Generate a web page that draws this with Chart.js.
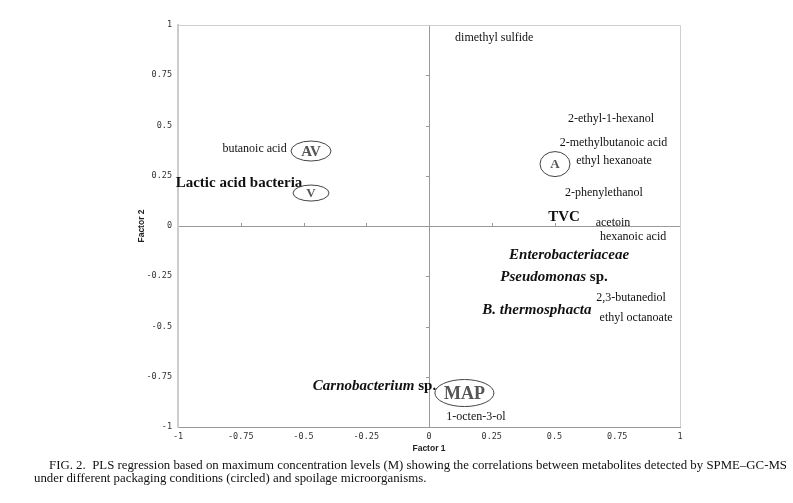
<!DOCTYPE html>
<html>
<head>
<meta charset="utf-8">
<script src="https://cdn.jsdelivr.net/npm/chart.js@4.4.1/dist/chart.umd.min.js"></script>
<style>
  body { margin: 0; background: #fff; }
  #wrap { position: relative; width: 793px; height: 503px; }
  .cap { position: absolute; font-family: "Liberation Serif", serif; font-size: 12px; color: #111;
         white-space: nowrap; transform-origin: 0 0; line-height: 12px; }
</style>
</head>
<body>
<div id="wrap">
  <canvas id="myChart" width="793" height="503"></canvas>
  <div class="cap" id="cap1" style="left:49px; top:459px;">FIG. 2.&nbsp; PLS regression based on maximum concentration levels (M) showing the correlations between metabolites detected by SPME–GC-MS</div>
  <div class="cap" id="cap2" style="left:34px; top:472px;">under different packaging conditions (circled) and spoilage microorganisms.</div>
</div>
<script>
// loadings (Factor 1, Factor 2)
const compoundNames = ['dimethyl sulfide', '2-ethyl-1-hexanol', '2-methylbutanoic acid', 'ethyl hexanoate',
  '2-phenylethanol', 'acetoin', 'hexanoic acid', '2,3-butanediol', 'ethyl octanoate', '1-octen-3-ol', 'butanoic acid'];
const compoundX = [0.26, 0.725, 0.735, 0.737, 0.697, 0.733, 0.813, 0.805, 0.825, 0.187, -0.695];
const compoundY = [0.935, 0.532, 0.413, 0.323, 0.164, 0.015, -0.055, -0.358, -0.458, -0.95, 0.383];

const microbeNames = ['Lactic acid bacteria', 'TVC', 'Enterobacteriaceae', 'Pseudomonas sp.', 'B. thermosphacta', 'Carnobacterium sp.'];
const microbeX = [-0.757, 0.538, 0.558, 0.498, 0.43, -0.217];
const microbeY = [0.214, 0.045, -0.144, -0.254, -0.418, -0.796];

const packagingNames = ['AV', 'V', 'A', 'MAP'];
const packagingX = [-0.47, -0.47, 0.502, 0.141];
const packagingY = [0.373, 0.164, 0.308, -0.831];

const axisTicks = [-1, -0.75, -0.5, -0.25, 0, 0.25, 0.5, 0.75, 1];

function toPoints(xs, ys) {
  return xs.map(function(x, i) { return {x: x, y: ys[i]}; });
}

// which microbe names are set in italic (genus part only when it ends in " sp.")
const italicNames = ['Enterobacteriaceae', 'Pseudomonas sp.', 'B. thermosphacta', 'Carnobacterium sp.'];
// ellipse half sizes and font size for the packaging labels
const ringSize = { 'AV': [20, 10, 15], 'V': [18, 8, 13], 'A': [15, 12.5, 13], 'MAP': [29.5, 13.5, 18] };

const labelPlugin = {
  id: 'labels',
  beforeDatasetsDraw(chart) {
    const ctx = chart.ctx, a = chart.chartArea;
    const xs = chart.scales.x, ys = chart.scales.y;
    const x0 = xs.getPixelForValue(0), y0 = ys.getPixelForValue(0);
    ctx.save();
    // top + right frame
    ctx.strokeStyle = '#cfcfcf';
    ctx.lineWidth = 1;
    ctx.beginPath();
    ctx.moveTo(a.left, a.top + 0.5); ctx.lineTo(a.right + 0.5, a.top + 0.5);
    ctx.lineTo(a.right + 0.5, a.bottom);
    ctx.stroke();
    // small tick marks on the zero axes
    ctx.strokeStyle = '#999';
    ctx.beginPath();
    axisTicks.forEach(function(v) {
      if (v === 0 || Math.abs(v) === 1) return;
      const px = Math.round(xs.getPixelForValue(v)) + 0.5;
      ctx.moveTo(px, y0); ctx.lineTo(px, y0 - 3);
      const py = Math.round(ys.getPixelForValue(v)) + 0.5;
      ctx.moveTo(x0, py); ctx.lineTo(x0 - 3, py);
    });
    ctx.stroke();
    ctx.restore();
  },
  afterDatasetsDraw(chart) {
    const ctx = chart.ctx;
    const xs = chart.scales.x, ys = chart.scales.y;
    ctx.save();
    ctx.textBaseline = 'middle';
    ctx.textAlign = 'center';

    // compounds
    ctx.fillStyle = '#111';
    ctx.font = '12px "Liberation Serif"';
    compoundNames.forEach(function(n, i) {
      ctx.fillText(n, xs.getPixelForValue(compoundX[i]), ys.getPixelForValue(compoundY[i]));
    });

    // microorganisms
    microbeNames.forEach(function(n, i) {
      const cx = xs.getPixelForValue(microbeX[i]), cy = ys.getPixelForValue(microbeY[i]);
      const italic = italicNames.indexOf(n) >= 0;
      let parts;
      if (italic && n.endsWith(' sp.')) parts = [[n.slice(0, -4), true], [' sp.', false]];
      else parts = [[n, italic]];
      const fonts = parts.map(function(p) { return (p[1] ? 'italic ' : '') + 'bold 15px "Liberation Serif"'; });
      let w = 0;
      parts.forEach(function(p, k) { ctx.font = fonts[k]; w += ctx.measureText(p[0]).width; });
      let x = cx - w / 2;
      ctx.textAlign = 'left';
      parts.forEach(function(p, k) {
        ctx.font = fonts[k];
        ctx.fillText(p[0], x, cy);
        x += ctx.measureText(p[0]).width;
      });
      ctx.textAlign = 'center';
    });

    // packaging conditions, circled
    packagingNames.forEach(function(n, i) {
      const cx = xs.getPixelForValue(packagingX[i]), cy = ys.getPixelForValue(packagingY[i]);
      const s = ringSize[n];
      ctx.strokeStyle = '#444';
      ctx.lineWidth = 1;
      ctx.beginPath();
      ctx.ellipse(cx, cy, s[0], s[1], 0, 0, Math.PI * 2);
      ctx.stroke();
      ctx.fillStyle = '#555';
      ctx.font = 'bold ' + s[2] + 'px "Liberation Serif"';
      ctx.fillText(n, cx, cy + 1);
    });
    ctx.restore();
  }
};

const tickFont = { family: '"DejaVu Sans Mono", monospace', size: 8.5 };
const tickText = function(v) { return String(v); };

var ctx = document.getElementById('myChart');
new Chart(ctx, {
  type: 'scatter',
  data: {
    datasets: [
      { label: 'Metabolites', data: toPoints(compoundX, compoundY), pointRadius: 0 },
      { label: 'Microorganisms', data: toPoints(microbeX, microbeY), pointRadius: 0 },
      { label: 'Packaging', data: toPoints(packagingX, packagingY), pointRadius: 0 }
    ]
  },
  options: {
    responsive: false,
    animation: false,
    layout: { padding: { left: 135, top: 25, right: 113, bottom: 46 } },
    plugins: { legend: { display: false }, tooltip: { enabled: false } },
    scales: {
      x: {
        type: 'linear', min: -1, max: 1,
        afterFit: function(s) { s.height = 30; },
        afterBuildTicks: function(s) { s.ticks = axisTicks.map(function(v) { return {value: v}; }); },
        ticks: { font: tickFont, color: '#333', padding: 5, maxRotation: 0, callback: tickText },
        grid: { drawTicks: false, lineWidth: 1,
                color: function(c) { return c.tick && c.tick.value === 0 ? '#999' : 'rgba(0,0,0,0)'; } },
        border: { display: true, color: '#999', width: 1 },
        title: { display: true, text: 'Factor 1', color: '#222', padding: { top: 0, bottom: 3 },
                 font: { family: '"Liberation Sans"', size: 8.5, weight: 'bold' } }
      },
      y: {
        type: 'linear', min: -1, max: 1,
        afterFit: function(s) { s.width = 43; },
        afterBuildTicks: function(s) { s.ticks = axisTicks.map(function(v) { return {value: v}; }); },
        ticks: { font: tickFont, color: '#333', padding: 6, callback: tickText },
        grid: { drawTicks: false, lineWidth: 1,
                color: function(c) { return c.tick && c.tick.value === 0 ? '#999' : 'rgba(0,0,0,0)'; } },
        border: { display: true, color: '#cccccc', width: 2 },
        title: { display: true, text: 'Factor 2', color: '#222', padding: { top: 2, bottom: 0 },
                 font: { family: '"Liberation Sans"', size: 8.5, weight: 'bold' } }
      }
    }
  },
  plugins: [labelPlugin]
});

// squeeze the caption to the width it has in the figure (both lines alike)
var cap1 = document.getElementById('cap1'), cap2 = document.getElementById('cap2');
var capScale = 738 / cap1.getBoundingClientRect().width;
cap1.style.transform = 'scaleX(' + capScale + ')';
cap2.style.transform = 'scaleX(' + capScale + ')';
</script>
</body>
</html>
